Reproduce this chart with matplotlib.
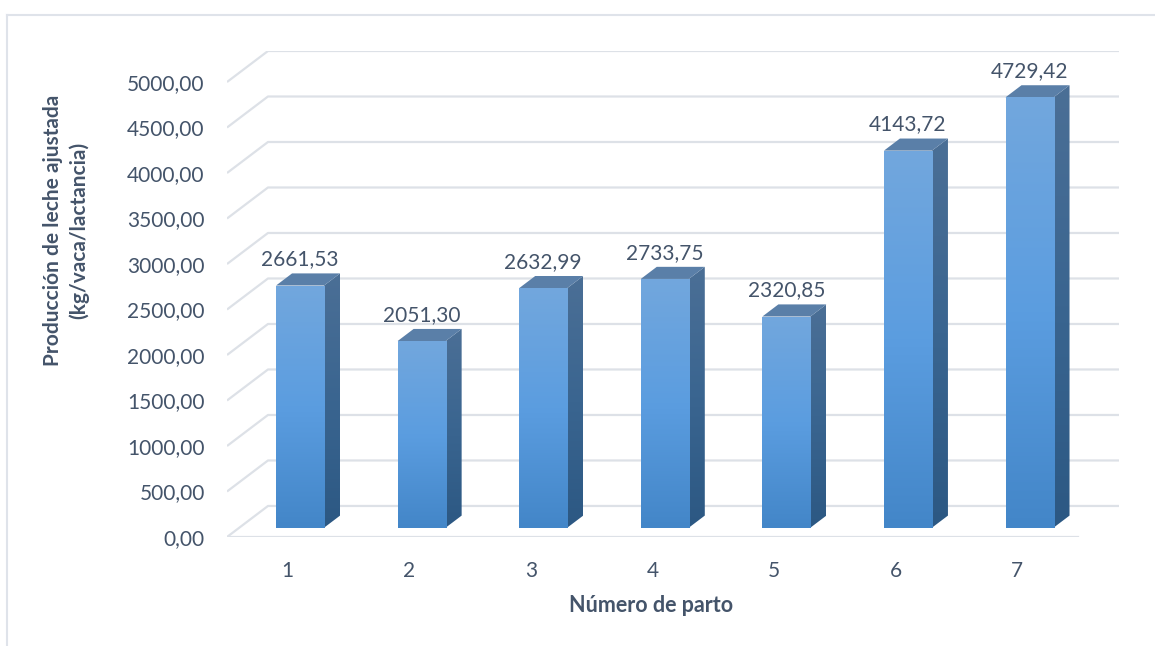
import numpy as np
import matplotlib
matplotlib.use('Agg')
import matplotlib.pyplot as plt
from matplotlib.patches import Polygon
from matplotlib.lines import Line2D
from matplotlib.colors import LinearSegmentedColormap

# ── Data ──────────────────────────────────────────────────────────────────────
partos = ['1', '2', '3', '4', '5', '6', '7']
produccion = [2661.53, 2051.30, 2632.99, 2733.75, 2320.85, 4143.72, 4729.42]
y_ticks = [0, 500, 1000, 1500, 2000, 2500, 3000, 3500, 4000, 4500, 5000]

# ── Style / pseudo-3D geometry ────────────────────────────────────────────────
TXT = '#44546a'
GRID = '#dde1e7'
FONT = 'Lato'
DX, DY = 0.337, 341.0      # oblique depth offset (category units, value units)
D0, D1 = 0.30, 0.69        # bar front / back depth fraction
BW = 0.395                 # bar width

front_cmap = LinearSegmentedColormap.from_list('front', ['#72a7dd', '#5b9de0', '#4386c8'])
side_cmap = LinearSegmentedColormap.from_list('side', ['#4b6f96', '#3a6590', '#2c5883'])
TOP = '#5a7fa8'

W, H = 1155, 646
fig = plt.figure(figsize=(W / 100, H / 100), dpi=100)
ax = fig.add_axes([227 / W, (H - 537) / H, 892 / W, 486 / H])
ax.set_xlim(-0.5, 6.5 + DX)
ax.set_ylim(0, 5000 + DY)
for s in ax.spines.values():
    s.set_visible(False)

# gridlines: front diagonal + back wall
n = len(partos)
for v in y_ticks:
    ax.plot([-0.5, -0.5 + DX, n - 0.5 + DX], [v, v + DY, v + DY],
            color=GRID, lw=1.6, zorder=1, solid_capstyle='butt')
ax.plot([-0.5, n - 0.5], [0, 0], color=GRID, lw=1.6, zorder=1)


def gradient_fill(patch, cmap, x0, x1, y0, y1, z):
    ax.add_patch(patch)
    grad = np.linspace(0, 1, 256).reshape(-1, 1)
    im = ax.imshow(grad, cmap=cmap, extent=[x0, x1, y1, y0], aspect='auto',
                   zorder=z, interpolation='bicubic', origin='upper')
    im.set_clip_path(patch)


for i, v in enumerate(produccion):
    xl = i + D0 * DX - BW / 2
    xr = xl + BW
    yb = D0 * DY
    yt = v + D0 * DY
    ddx, ddy = (D1 - D0) * DX, (D1 - D0) * DY
    # side face
    side = Polygon([(xr, yb), (xr + ddx, yb + ddy), (xr + ddx, yt + ddy), (xr, yt)],
                   closed=True, facecolor='none', edgecolor='none', zorder=3)
    gradient_fill(side, side_cmap, xr, xr + ddx, yt + ddy, yb, 3)
    # top face
    ax.add_patch(Polygon([(xl, yt), (xr, yt), (xr + ddx, yt + ddy), (xl + ddx, yt + ddy)],
                         closed=True, facecolor=TOP, edgecolor='none', zorder=4))
    # front face
    front = ax.bar(i + D0 * DX, v, width=BW, bottom=yb, color='none',
                   edgecolor='none', zorder=4)[0]
    gradient_fill(front, front_cmap, xl, xr, yt, yb, 4)
    ax.annotate(f'{v:.2f}'.replace('.', ','), xy=(i + D0 * DX, yt + ddy),
                xytext=(0, 3), textcoords='offset points', ha='center', va='bottom',
                fontsize=15, color=TXT, family=FONT, zorder=6)

ax.set_xlim(-0.5, 6.5 + DX)
ax.set_ylim(0, 5000 + DY)

ax.set_yticks(y_ticks)
ax.set_yticklabels([f'{t:.2f}'.replace('.', ',') for t in y_ticks])
ax.set_xticks(range(n))
ax.set_xticklabels(partos)
ax.tick_params(axis='y', length=0, pad=16, labelsize=15, labelcolor=TXT)
ax.tick_params(axis='x', length=0, pad=17, labelsize=15, labelcolor=TXT)
for lab in ax.get_xticklabels() + ax.get_yticklabels():
    lab.set_family(FONT)

fig.text(651 / W, 1 - 606 / H, 'Número de parto', ha='center', va='center',
         fontsize=15.5, fontweight='bold', color=TXT, family=FONT)
fig.text(66 / W, 1 - 230 / H, 'Producción de leche ajustada\n(kg/vaca/lactancia)',
         ha='center', va='center', rotation=90, fontsize=15, fontweight='bold',
         color=TXT, family=FONT, linespacing=1.35)

# outer chart border (only top and left visible in crop)
fig.add_artist(Line2D([7 / W, 7 / W], [0, 1 - 15 / H], color='#dfe3ea', lw=1.5))
fig.add_artist(Line2D([7 / W, 1], [1 - 15 / H, 1 - 15 / H], color='#dfe3ea', lw=1.5))

fig.savefig('out.png', dpi=100)
